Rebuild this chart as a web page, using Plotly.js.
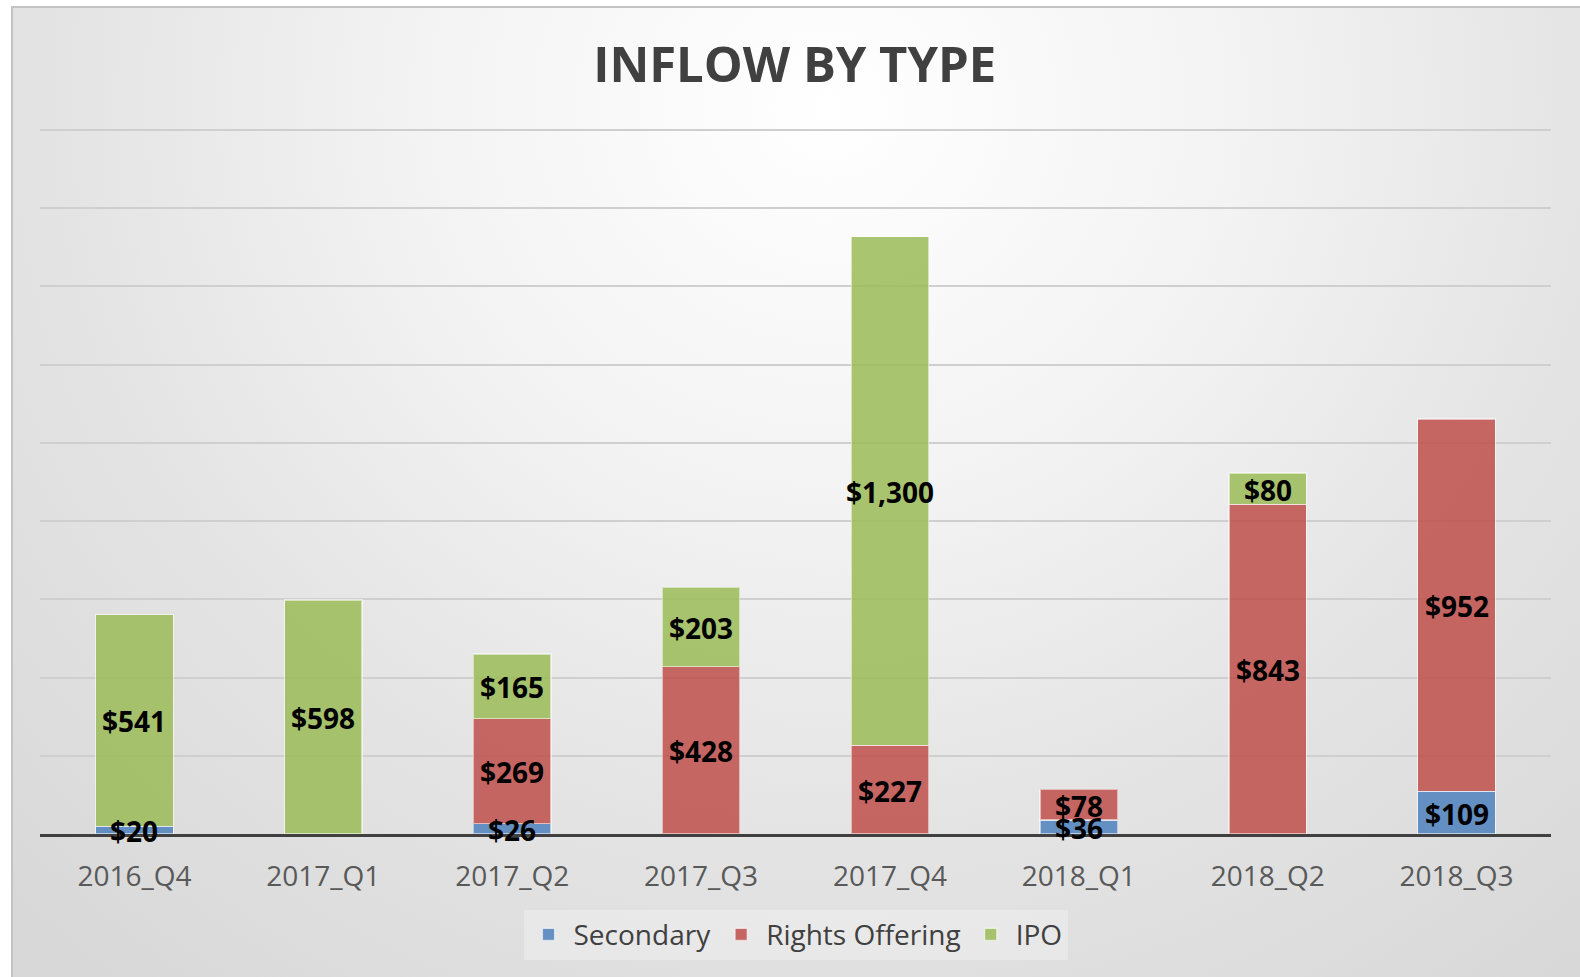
<!DOCTYPE html>
<html>
<head>
<meta charset="utf-8">
<script src="https://cdn.plot.ly/plotly-3.0.1.min.js"></script>
<style>
  html, body { margin: 0; padding: 0; width: 1580px; height: 977px; overflow: hidden; background: #ffffff; }
  #frame {
    position: absolute; left: 11px; top: 6px; width: 1567px; height: 971px;
    border-left: 2px solid #c3c3c3; border-top: 2px solid #c3c3c3; border-right: 2px solid #c3c3c3;
    background: radial-gradient(ellipse 75% 115% at 52% 10%, #ffffff 0%, #f3f3f3 35%, #e4e4e4 65%, #d8d8d8 100%);
  }
  #chart { position: absolute; left: 0; top: 0; width: 1580px; height: 977px; }
</style>
</head>
<body>
<div id="frame"></div>
<div id="chart"></div>
<script>
const quarters = ["2016_Q4", "2017_Q1", "2017_Q2", "2017_Q3", "2017_Q4", "2018_Q1", "2018_Q2", "2018_Q3"];
const secondary = [20, null, 26, null, null, 36, null, 109];
const rightsOffering = [null, null, 269, 428, 227, 78, 843, 952];
const ipo = [541, 598, 165, 203, 1300, null, 80, null];

const seriesNames = ["Secondary", "Rights Offering", "IPO"];
const seriesColors = ["rgba(79,129,189,0.86)", "rgba(192,80,77,0.86)", "rgba(155,187,89,0.86)"];
const seriesValues = [secondary, rightsOffering, ipo];

const traces = seriesValues.map((vals, i) => ({
  type: "bar",
  name: seriesNames[i],
  x: quarters,
  y: vals,
  marker: { color: seriesColors[i], line: { color: "rgba(255,255,255,0.55)", width: 1.2 } },
  hoverinfo: "x+y+name"
}));

// Data labels: centred on each stacked segment, drawn above all bars
const annotations = [];
quarters.forEach((q, j) => {
  let base = 0;
  seriesValues.forEach(vals => {
    const v = vals[j];
    if (v !== null && v !== undefined) {
      annotations.push({
        x: q, y: base + v / 2, xref: "x", yref: "y",
        text: "$" + v.toLocaleString("en-US"),
        showarrow: false,
        yshift: -1,
        font: { family: "Open Sans", size: 28, color: "#000000", weight: "bold" }
      });
      base += v;
    }
  });
});

const layout = {
  width: 1580,
  height: 977,
  barmode: "stack",
  bargap: 0.59,
  paper_bgcolor: "rgba(0,0,0,0)",
  plot_bgcolor: "rgba(0,0,0,0)",
  margin: { l: 40, r: 29, t: 126, b: 143 },
  annotations: annotations,
  title: {
    text: "INFLOW BY TYPE",
    font: { family: "Open Sans", size: 49, color: "#404040", weight: "bold" },
    x: 0.503, xanchor: "center",
    y: 0.934, yanchor: "middle"
  },
  xaxis: {
    type: "category",
    showline: true, linecolor: "#404040", linewidth: 3,
    showgrid: false,
    ticks: "outside", ticklen: 15, tickcolor: "rgba(0,0,0,0)",
    tickfont: { family: "Open Sans", size: 28, color: "#595959" }
  },
  yaxis: {
    range: [0, 1810],
    tickvals: [200, 400, 600, 800, 1000, 1200, 1400, 1600, 1800],
    showticklabels: false,
    showgrid: true, gridcolor: "#cfcfcf", gridwidth: 2,
    zeroline: false,
    showline: false,
    fixedrange: true
  },
  showlegend: true,
  legend: {
    orientation: "h",
    x: 0.5, xanchor: "center",
    y: -0.107, yanchor: "top",
    itemwidth: 40,
    bgcolor: "rgba(255,255,255,0.28)",
    font: { family: "Open Sans", size: 28, color: "#404040" },
    traceorder: "normal"
  }
};

Plotly.newPlot("chart", traces, layout, { displayModeBar: false, staticPlot: true });
</script>
</body>
</html>
